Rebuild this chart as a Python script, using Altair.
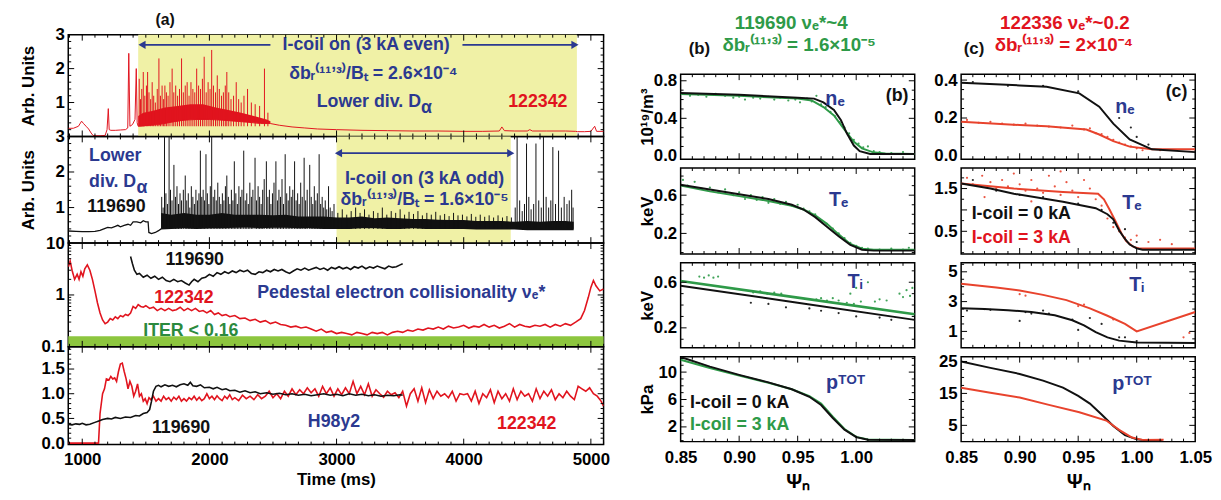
import altair as alt
import pandas as pd

FONT = "Liberation Sans Narrow, Liberation Sans, Arial, sans-serif"
BLUE = "#2b3990"
RED = "#e1141e"
ORED = "#e8432d"
GREEN = "#2e9a48"
BLACK = "#111111"
YELLOW = "#f0f1a6"
ITERG = "#8dc63f"

# ---------------- panel (a): time traces ----------------
time_labels = [1000, 2000, 3000, 4000, 5000]
yellow_even = [1440, 4890]
yellow_odd = [3000, 4370]

# 122342 lower divertor D-alpha (baseline trace)
red_da = [(891, 0.24), (930, 0.24), (970, 0.3), (995, 0.45), (1010, 0.38), (1030, 0.3), (1050, 0.22),
          (1070, 0.1), (1085, 0.03), (1100, 0.02), (1140, 0.02), (1180, 0.03), (1195, 0.2), (1205, 0.82),
          (1212, 0.2), (1225, 0.18), (1260, 0.18), (1300, 0.19), (1340, 0.2), (1358, 0.25), (1366, 2.45),
          (1375, 0.3), (1395, 0.35), (1415, 0.5), (1425, 2.0), (1432, 0.4), (1440, 0.3), (1500, 0.32),
          (1600, 0.35), (1700, 0.42), (1800, 0.48), (1900, 0.5), (2000, 0.5), (2100, 0.48), (2200, 0.45),
          (2300, 0.42), (2400, 0.38), (2480, 0.38), (2550, 0.33), (2650, 0.28), (2750, 0.25), (2850, 0.22),
          (3000, 0.2), (3200, 0.18), (3400, 0.17), (3600, 0.16), (3800, 0.16), (4000, 0.15), (4150, 0.15),
          (4280, 0.16), (4300, 0.28), (4320, 0.17), (4400, 0.16), (4500, 0.16), (4520, 0.2), (4540, 0.16),
          (4650, 0.16), (4800, 0.16), (4880, 0.15), (4895, 0.14), (4950, 0.14), (5000, 0.15), (5030, 0.3),
          (5045, 0.15), (5100, 0.15)]
red_body = [(1440, 0.3, 0.6), (1480, 0.3, 0.7), (1550, 0.33, 0.75), (1650, 0.38, 0.85), (1750, 0.45, 0.9),
            (1850, 0.49, 0.95), (1950, 0.5, 0.95), (2050, 0.49, 0.85), (2150, 0.46, 0.78), (2250, 0.43, 0.7),
            (2350, 0.4, 0.6), (2450, 0.38, 0.5), (2480, 0.38, 0.45)]
red_spikes = [(1448, 1.7), (1458, 1.1), (1468, 1.4), (1480, 1.9), (1492, 1.2), (1505, 1.5), (1514, 1.9),
              (1525, 1.3), (1538, 1.1), (1550, 1.6), (1562, 1.2), (1575, 1.0), (1590, 1.4), (1603, 2.3),
              (1615, 1.2), (1628, 1.5), (1640, 1.1), (1650, 1.5), (1662, 1.3), (1675, 1.2), (1690, 1.6),
              (1707, 2.0), (1720, 1.3), (1735, 1.5), (1750, 1.2), (1765, 1.4), (1781, 2.3), (1795, 1.3),
              (1810, 1.5), (1825, 1.6), (1840, 1.2), (1855, 1.6), (1870, 1.4), (1885, 1.3), (1900, 2.0),
              (1915, 1.5), (1930, 1.4), (1945, 1.7), (1959, 2.35), (1975, 1.3), (1990, 1.6), (2005, 1.4),
              (2018, 2.55), (2032, 1.5), (2048, 1.3), (2062, 1.8), (2078, 1.4), (2095, 1.2), (2110, 1.3),
              (2125, 1.5), (2137, 1.9), (2152, 1.3), (2170, 1.1), (2190, 1.2), (2211, 1.6), (2230, 1.1),
              (2250, 1.0), (2272, 1.2), (2300, 1.4), (2330, 1.0), (2360, 0.95), (2395, 0.9), (2433, 2.0),
              (2460, 0.7)]

# 119690 lower divertor D-alpha
black_da = [(891, 0.34), (950, 0.33), (1000, 0.32), (1050, 0.32), (1100, 0.33), (1140, 0.36), (1170, 0.4),
            (1200, 0.44), (1230, 0.43), (1260, 0.47), (1280, 0.5), (1300, 0.46), (1330, 0.5), (1360, 0.53),
            (1380, 0.5), (1400, 0.6), (1430, 0.6), (1460, 0.57), (1480, 0.63), (1500, 0.6), (1518, 0.6),
            (1524, 0.3), (1545, 0.27), (1575, 0.3), (1600, 0.35), (1620, 0.4)]
black_body = [(1620, 0.38, 0.85), (1700, 0.4, 0.8), (1800, 0.42, 0.85), (1900, 0.4, 0.8), (2000, 0.42, 0.8),
              (2100, 0.42, 0.85), (2200, 0.43, 0.8), (2300, 0.44, 0.8), (2400, 0.42, 0.8), (2500, 0.43, 0.78),
              (2600, 0.43, 0.8), (2700, 0.42, 0.75), (2800, 0.42, 0.75), (2900, 0.4, 0.75), (3000, 0.4, 0.72),
              (3100, 0.4, 0.72), (3200, 0.42, 0.75), (3300, 0.42, 0.7), (3400, 0.4, 0.72), (3500, 0.4, 0.7),
              (3600, 0.42, 0.68), (3700, 0.4, 0.68), (3800, 0.4, 0.66), (3900, 0.4, 0.65), (4000, 0.4, 0.65),
              (4100, 0.38, 0.62), (4200, 0.38, 0.62), (4300, 0.38, 0.62), (4400, 0.38, 0.6), (4500, 0.36, 0.62),
              (4600, 0.36, 0.6), (4700, 0.36, 0.62), (4800, 0.36, 0.62), (4865, 0.36, 0.6)]
black_spikes = [(1625, 1.3), (1636, 1.0), (1647, 3.2), (1658, 1.4), (1670, 1.1), (1683, 3.2), (1694, 1.5),
                (1706, 1.2), (1721, 2.2), (1733, 1.3), (1745, 1.6), (1757, 1.1), (1769, 1.4), (1781, 1.2),
                (1795, 1.5), (1810, 1.9), (1822, 1.2), (1834, 1.4), (1846, 1.0), (1858, 1.6), (1870, 1.3),
                (1882, 1.1), (1894, 1.5), (1906, 1.2), (1918, 1.4), (1929, 2.6), (1940, 1.3), (1951, 1.5),
                (1962, 1.2), (1973, 2.5), (1984, 1.4), (1996, 1.1), (2007, 1.6), (2018, 3.2), (2030, 1.3),
                (2042, 1.5), (2054, 1.2), (2066, 1.7), (2078, 1.3), (2090, 1.1), (2102, 1.4), (2114, 1.2),
                (2126, 1.6), (2137, 1.9), (2149, 1.3), (2161, 1.1), (2173, 1.5), (2185, 1.2), (2196, 2.3),
                (2208, 1.4), (2220, 1.1), (2232, 1.6), (2244, 1.3), (2256, 1.5), (2270, 2.6), (2282, 1.2),
                (2294, 1.4), (2306, 1.1), (2318, 1.7), (2330, 1.3), (2342, 1.5), (2359, 2.4), (2371, 1.2),
                (2383, 1.6), (2395, 1.3), (2407, 1.1), (2419, 1.5), (2431, 1.8), (2448, 2.3), (2460, 1.3),
                (2472, 1.5), (2484, 1.1), (2496, 1.4), (2508, 1.7), (2523, 2.3), (2535, 1.2), (2547, 1.5),
                (2559, 1.3), (2571, 1.8), (2583, 1.1), (2596, 2.5), (2608, 1.4), (2620, 1.2), (2632, 1.6),
                (2644, 1.3), (2656, 1.5), (2670, 2.3), (2682, 1.2), (2694, 1.4), (2706, 1.1), (2718, 1.7),
                (2730, 1.3), (2745, 2.4), (2757, 1.2), (2769, 1.5), (2789, 2.2), (2801, 1.3), (2813, 1.1),
                (2825, 1.6), (2837, 1.2), (2849, 1.4), (2863, 2.5), (2875, 1.1), (2887, 1.3), (2899, 1.0),
                (2911, 1.2), (2923, 0.95), (2937, 1.6), (2950, 1.0), (2965, 0.9), (2980, 1.1),
                (3010, 0.85), (3045, 0.95), (3080, 0.8), (3115, 0.9), (3150, 1.0), (3185, 0.85), (3220, 0.95),
                (3255, 0.8), (3290, 0.9), (3325, 0.85), (3360, 1.0), (3395, 0.8), (3430, 0.9), (3465, 0.85),
                (3500, 0.95), (3535, 0.8), (3570, 0.88), (3605, 0.82), (3640, 0.9), (3675, 0.78), (3710, 0.85),
                (3745, 0.8), (3780, 0.88), (3815, 0.78), (3850, 0.82), (3885, 0.76), (3920, 0.85), (3955, 0.78),
                (3990, 0.8), (4025, 0.75), (4060, 0.82), (4095, 0.74), (4130, 0.8), (4165, 0.74), (4200, 0.78),
                (4235, 0.72), (4270, 0.78), (4305, 0.72), (4340, 0.76), (4375, 0.72),
                (4405, 1.0), (4420, 3.2), (4440, 1.2), (4460, 0.9), (4478, 1.1), (4494, 2.8), (4512, 1.3),
                (4530, 0.95), (4550, 1.1), (4568, 2.8), (4590, 1.2), (4610, 1.0), (4627, 3.2), (4648, 1.3),
                (4668, 1.0), (4685, 1.2), (4701, 2.7), (4722, 1.1), (4746, 2.6), (4768, 1.0), (4790, 1.3),
                (4812, 1.1), (4830, 1.2), (4849, 1.5), (4860, 1.0)]

# pedestal electron collisionality
red_nu = [(891, 3.5), (905, 4.5), (920, 3.0), (940, 2.0), (960, 2.5), (975, 2.0), (990, 2.8), (1005, 2.3),
          (1020, 3.2), (1040, 3.8), (1060, 3.0), (1080, 2.0), (1100, 1.2), (1120, 0.7), (1140, 0.45),
          (1160, 0.33), (1180, 0.28), (1200, 0.3), (1220, 0.35), (1240, 0.33), (1260, 0.38), (1280, 0.35),
          (1300, 0.4), (1320, 0.38), (1340, 0.42), (1360, 0.4), (1380, 0.45), (1400, 0.6), (1420, 0.55),
          (1440, 0.65), (1460, 0.6), (1480, 0.58), (1500, 0.62), (1530, 0.55), (1560, 0.58), (1590, 0.5),
          (1620, 0.55), (1650, 0.5), (1680, 0.55), (1710, 0.5), (1740, 0.52), (1770, 0.58), (1800, 0.5),
          (1830, 0.55), (1860, 0.5), (1890, 0.55), (1920, 0.48), (1950, 0.5), (1980, 0.45), (2010, 0.5),
          (2040, 0.42), (2070, 0.45), (2100, 0.4), (2130, 0.42), (2160, 0.38), (2200, 0.4), (2240, 0.35),
          (2280, 0.36), (2320, 0.32), (2360, 0.34), (2400, 0.3), (2440, 0.32), (2480, 0.28), (2520, 0.3),
          (2560, 0.27), (2600, 0.26), (2640, 0.24), (2680, 0.25), (2720, 0.23), (2760, 0.24), (2800, 0.22),
          (2840, 0.2), (2880, 0.22), (2920, 0.19), (2960, 0.2), (3000, 0.18), (3040, 0.19), (3080, 0.18),
          (3120, 0.17), (3160, 0.19), (3200, 0.18), (3240, 0.17), (3280, 0.19), (3320, 0.18), (3360, 0.19),
          (3400, 0.17), (3440, 0.19), (3480, 0.2), (3520, 0.19), (3560, 0.21), (3600, 0.2), (3640, 0.22),
          (3680, 0.21), (3720, 0.23), (3760, 0.22), (3800, 0.24), (3840, 0.22), (3880, 0.25), (3920, 0.23),
          (3960, 0.24), (4000, 0.26), (4040, 0.23), (4080, 0.25), (4120, 0.24), (4160, 0.27), (4200, 0.24),
          (4240, 0.26), (4280, 0.23), (4320, 0.25), (4360, 0.28), (4400, 0.24), (4440, 0.27), (4480, 0.25),
          (4520, 0.24), (4560, 0.26), (4600, 0.25), (4640, 0.27), (4680, 0.24), (4720, 0.27), (4760, 0.25),
          (4800, 0.28), (4840, 0.26), (4880, 0.3), (4920, 0.35), (4950, 0.5), (4980, 0.9), (5000, 1.4),
          (5020, 1.9), (5040, 1.5), (5070, 1.2), (5100, 1.3)]
black_nu = [(1380, 5.5), (1395, 4.0), (1410, 3.0), (1430, 2.5), (1450, 2.6), (1480, 2.2), (1510, 2.4),
            (1540, 2.1), (1570, 2.3), (1600, 2.0), (1630, 2.2), (1660, 1.9), (1690, 1.8), (1720, 2.0),
            (1750, 1.8), (1780, 1.9), (1810, 1.7), (1840, 1.55), (1860, 1.8), (1880, 2.0), (1910, 1.8),
            (1940, 2.1), (1970, 2.2), (2000, 2.5), (2030, 2.3), (2060, 2.7), (2090, 2.5), (2120, 2.8),
            (2150, 2.6), (2180, 2.9), (2210, 2.7), (2240, 3.0), (2270, 2.8), (2300, 3.0), (2330, 2.6),
            (2360, 2.5), (2390, 2.8), (2420, 2.7), (2450, 3.0), (2480, 2.8), (2510, 3.1), (2540, 2.9),
            (2570, 3.1), (2600, 2.8), (2630, 2.6), (2660, 2.9), (2690, 3.2), (2720, 3.0), (2750, 3.3),
            (2780, 3.0), (2810, 3.2), (2840, 3.4), (2870, 3.1), (2900, 3.3), (2930, 3.0), (2960, 3.4),
            (2990, 3.2), (3020, 3.5), (3050, 3.2), (3080, 3.4), (3110, 3.1), (3140, 3.5), (3170, 3.3),
            (3200, 3.6), (3230, 3.2), (3260, 3.5), (3290, 3.3), (3320, 3.6), (3350, 3.4), (3380, 3.2),
            (3410, 3.6), (3440, 3.4), (3470, 3.5), (3500, 3.8), (3520, 4.0)]
iter_band = [0.1, 0.16]

# H98y2 confinement factor
red_h98 = [(891, 0.0), (1000, 0.0), (1100, 0.0), (1128, 0.0), (1140, 0.6), (1160, 1.0), (1175, 1.1),
           (1190, 1.3), (1210, 1.28), (1225, 1.35), (1240, 1.3), (1255, 1.32), (1270, 1.25), (1285, 1.45),
           (1300, 1.6), (1315, 1.62), (1330, 1.45), (1345, 1.3), (1360, 1.1), (1375, 1.25), (1390, 1.15),
           (1405, 0.95), (1420, 1.05), (1435, 1.2), (1450, 0.95), (1465, 1.0), (1480, 0.85), (1495, 0.9),
           (1510, 0.8), (1525, 0.92), (1540, 0.88), (1560, 0.95), (1580, 0.85), (1600, 0.9), (1620, 0.85),
           (1640, 0.95), (1660, 0.88), (1680, 0.92), (1700, 0.85), (1720, 0.93), (1740, 0.88), (1760, 0.95),
           (1780, 0.85), (1800, 0.9), (1820, 0.85), (1840, 0.92), (1860, 0.88), (1880, 0.95), (1900, 0.87),
           (1920, 0.93), (1940, 0.86), (1960, 0.9), (1980, 1.0), (2000, 0.9), (2020, 0.95), (2040, 0.88),
           (2060, 0.96), (2080, 0.9), (2100, 0.86), (2120, 0.95), (2140, 0.9), (2160, 0.98), (2180, 0.88),
           (2200, 0.92), (2230, 0.86), (2260, 0.97), (2290, 0.9), (2320, 0.95), (2350, 0.88), (2380, 0.98),
           (2410, 0.9), (2440, 0.95), (2470, 1.05), (2500, 0.92), (2530, 1.0), (2560, 0.9), (2590, 1.05),
           (2620, 0.95), (2650, 1.1), (2680, 0.98), (2710, 1.08), (2740, 1.0), (2770, 1.12), (2800, 1.02),
           (2830, 1.1), (2860, 0.95), (2890, 1.15), (2920, 1.0), (2950, 1.12), (2980, 0.95), (3010, 1.1),
           (3040, 0.98), (3070, 1.12), (3100, 1.0), (3130, 1.25), (3160, 1.0), (3190, 1.15), (3220, 0.98),
           (3250, 1.2), (3280, 0.95), (3310, 1.08), (3340, 1.0), (3370, 0.93), (3400, 1.05), (3430, 0.98),
           (3460, 1.02), (3490, 0.92), (3520, 1.05), (3550, 0.75), (3580, 1.0), (3610, 1.1), (3640, 0.85),
           (3670, 1.12), (3700, 0.82), (3730, 1.08), (3760, 0.9), (3790, 1.05), (3820, 0.95), (3850, 1.0),
           (3880, 0.92), (3910, 1.05), (3940, 0.85), (3970, 1.0), (4000, 0.98), (4030, 1.0), (4060, 0.85),
           (4090, 1.05), (4120, 0.8), (4150, 1.0), (4180, 0.92), (4210, 1.08), (4240, 0.82), (4270, 1.05),
           (4300, 0.9), (4330, 1.0), (4360, 0.85), (4390, 1.1), (4420, 0.88), (4450, 1.05), (4480, 0.95),
           (4510, 1.0), (4540, 0.85), (4570, 1.1), (4600, 0.9), (4630, 1.05), (4660, 0.95), (4690, 1.08),
           (4720, 0.88), (4750, 1.0), (4780, 0.92), (4810, 1.05), (4840, 0.95), (4870, 0.88), (4900, 1.15),
           (4930, 1.1), (4960, 1.05), (4990, 1.12), (5020, 1.0), (5050, 0.95), (5080, 0.85), (5100, 0.75)]
black_h98 = [(891, 0.38), (920, 0.37), (950, 0.39), (980, 0.38), (1000, 0.4), (1030, 0.37), (1060, 0.38),
             (1100, 0.42), (1130, 0.45), (1160, 0.48), (1200, 0.5), (1230, 0.49), (1260, 0.52), (1300, 0.5),
             (1340, 0.53), (1380, 0.52), (1420, 0.56), (1450, 0.55), (1480, 0.6), (1510, 0.62), (1530, 0.68),
             (1545, 0.85), (1560, 1.05), (1580, 1.15), (1600, 1.17), (1620, 1.14), (1650, 1.18), (1680, 1.15),
             (1710, 1.17), (1740, 1.14), (1770, 1.18), (1800, 1.2), (1830, 1.17), (1850, 1.23), (1870, 1.16),
             (1900, 1.15), (1930, 1.18), (1960, 1.12), (2000, 1.13), (2030, 1.1), (2060, 1.13), (2100, 1.08),
             (2130, 1.1), (2160, 1.06), (2200, 1.07), (2240, 1.03), (2280, 1.06), (2320, 1.02), (2360, 1.04),
             (2400, 1.0), (2450, 1.02), (2500, 0.99), (2550, 1.01), (2600, 0.98), (2650, 1.0), (2700, 0.97),
             (2750, 0.99), (2800, 0.96), (2850, 0.98), (2900, 1.0), (2950, 0.97), (3000, 0.99), (3050, 0.96),
             (3100, 1.0), (3150, 0.97), (3200, 0.99), (3250, 0.96), (3300, 0.98), (3350, 0.95), (3400, 0.97),
             (3450, 0.96), (3500, 0.98), (3520, 0.97)]

# ---------------- panels (b), (c): profiles vs psi_n ----------------
psi_labels_b = [0.85, 0.90, 0.95, 1.00]
psi_labels_c = [0.85, 0.90, 0.95, 1.00, 1.05]

b_ne_0 = [(0.85, 0.67), (0.9, 0.65), (0.95, 0.62), (0.964, 0.61), (0.972, 0.57), (0.981, 0.49), (0.987, 0.38),
          (0.992, 0.24), (0.998, 0.11), (1.003, 0.05), (1.012, 0.02), (1.05, 0.02)]
b_ne_3 = [(0.85, 0.66), (0.9, 0.64), (0.95, 0.61), (0.962, 0.59), (0.972, 0.52), (0.981, 0.43), (0.99, 0.28),
          (0.998, 0.15), (1.005, 0.08), (1.014, 0.04), (1.025, 0.025), (1.05, 0.02)]
b_ne_pts = [(0.852, 0.66), (0.858, 0.64), (0.865, 0.65), (0.872, 0.63), (0.88, 0.66), (0.888, 0.64), (0.895, 0.62),
            (0.9, 0.63), (0.905, 0.6), (0.912, 0.62), (0.918, 0.61), (0.925, 0.63), (0.93, 0.6), (0.935, 0.62),
            (0.942, 0.59), (0.948, 0.6), (0.952, 0.57), (0.958, 0.61), (0.962, 0.58), (0.966, 0.64), (0.97, 0.55),
            (0.974, 0.52), (0.978, 0.47), (0.982, 0.42), (0.986, 0.36), (0.99, 0.3), (0.994, 0.24), (0.998, 0.17),
            (1.002, 0.13), (1.006, 0.09), (1.01, 0.1), (1.015, 0.05), (1.02, 0.04), (1.03, 0.03), (1.04, 0.04),
            (1.045, 0.02)]
b_te_0 = [(0.85, 0.71), (0.875, 0.66), (0.9, 0.61), (0.925, 0.56), (0.945, 0.5), (0.955, 0.45), (0.965, 0.37),
          (0.975, 0.27), (0.985, 0.17), (0.995, 0.08), (1.005, 0.03), (1.015, 0.02), (1.05, 0.02)]
b_te_3 = [(0.85, 0.7), (0.875, 0.64), (0.9, 0.59), (0.925, 0.54), (0.945, 0.49), (0.955, 0.45), (0.965, 0.39),
          (0.975, 0.3), (0.985, 0.19), (0.995, 0.09), (1.005, 0.04), (1.015, 0.03), (1.05, 0.03)]
b_te_pts = [(0.852, 0.76), (0.856, 0.7), (0.862, 0.74), (0.868, 0.67), (0.875, 0.68), (0.882, 0.63), (0.888, 0.66),
            (0.895, 0.6), (0.9, 0.63), (0.905, 0.56), (0.91, 0.6), (0.915, 0.55), (0.92, 0.58), (0.925, 0.52),
            (0.93, 0.56), (0.935, 0.51), (0.94, 0.53), (0.945, 0.49), (0.95, 0.5), (0.955, 0.46), (0.96, 0.43),
            (0.965, 0.4), (0.97, 0.34), (0.975, 0.3), (0.98, 0.25), (0.985, 0.2), (0.99, 0.15), (0.995, 0.1),
            (1.0, 0.07), (1.005, 0.05), (1.01, 0.04), (1.02, 0.03), (1.03, 0.04), (1.04, 0.03), (1.045, 0.05)]
b_ti_0 = [(0.85, 0.57), (0.95, 0.42), (1.05, 0.27)]
b_ti_3 = [(0.85, 0.61), (0.95, 0.465), (1.05, 0.32)]
b_ti_pts3 = [(0.866, 0.65), (0.87, 0.64), (0.874, 0.66), (0.878, 0.64), (0.882, 0.65), (0.912, 0.51), (0.918, 0.52),
             (0.924, 0.5), (0.93, 0.51), (0.936, 0.5), (0.966, 0.45), (0.97, 0.46), (0.975, 0.44), (0.98, 0.46),
             (0.985, 0.44), (0.992, 0.42), (0.998, 0.41), (1.004, 0.43), (1.016, 0.43), (1.02, 0.45), (1.026, 0.44),
             (1.037, 0.5), (1.04, 0.47), (1.043, 0.53), (1.046, 0.48), (1.048, 0.55), (1.0, 0.55), (1.01, 0.6),
             (0.995, 0.5)]
b_ti_pts0 = [(0.91, 0.42), (0.925, 0.41), (0.94, 0.38), (0.96, 0.37), (0.97, 0.35), (0.985, 0.33), (1.0, 0.3),
             (1.02, 0.29), (1.03, 0.27)]
b_p_0 = [(0.85, 12.2), (0.875, 10.8), (0.9, 9.6), (0.925, 8.5), (0.945, 7.5), (0.96, 6.4), (0.97, 5.2),
         (0.98, 3.3), (0.99, 1.6), (1.0, 0.5), (1.01, 0.12), (1.05, 0.1)]
b_p_3 = [(0.85, 11.8), (0.875, 10.6), (0.9, 9.5), (0.925, 8.45), (0.945, 7.5), (0.96, 6.5), (0.97, 5.4),
         (0.98, 3.5), (0.99, 1.7), (1.0, 0.55), (1.01, 0.15), (1.05, 0.1)]

c_ne_0 = [(0.85, 0.386), (0.9, 0.372), (0.923, 0.365), (0.951, 0.33), (0.968, 0.26), (0.98, 0.17), (0.994, 0.087),
          (1.013, 0.035), (1.05, 0.02)]
c_ne_3 = [(0.85, 0.18), (0.9, 0.163), (0.923, 0.157), (0.957, 0.139), (0.968, 0.113), (0.98, 0.078),
          (0.994, 0.049), (1.013, 0.035), (1.05, 0.035)]
c_ne_pts3 = [(0.855, 0.19), (0.865, 0.175), (0.875, 0.18), (0.885, 0.17), (0.895, 0.165), (0.905, 0.17),
             (0.915, 0.16), (0.925, 0.155), (0.935, 0.15), (0.945, 0.16), (0.955, 0.14), (0.96, 0.145),
             (0.965, 0.12), (0.97, 0.115), (0.975, 0.1), (0.98, 0.085), (0.985, 0.07), (0.99, 0.06),
             (0.995, 0.05), (1.0, 0.04), (1.005, 0.03), (1.01, 0.04), (1.02, 0.03)]
c_ne_pts0 = [(0.86, 0.39), (0.89, 0.37), (0.92, 0.37), (0.95, 0.34), (0.985, 0.2), (0.995, 0.15), (1.0, 0.1),
             (1.01, 0.06)]
c_te_0 = [(0.85, 1.62), (0.875, 1.5), (0.895, 1.38), (0.937, 1.19), (0.965, 1.04), (0.975, 0.9), (0.98, 0.78),
          (0.985, 0.52), (0.99, 0.32), (0.994, 0.19), (1.0, 0.1), (1.005, 0.07), (1.05, 0.07)]
c_te_3 = [(0.85, 1.62), (0.895, 1.5), (0.937, 1.42), (0.967, 1.38), (0.972, 1.25), (0.977, 1.0), (0.982, 0.73),
          (0.987, 0.45), (0.991, 0.27), (0.997, 0.14), (1.002, 0.1), (1.05, 0.1)]
c_te_pts3 = [(0.855, 1.75), (0.86, 1.6), (0.868, 1.8), (0.875, 1.65), (0.88, 1.5), (0.885, 1.7), (0.89, 1.55),
             (0.895, 1.85), (0.9, 1.6), (0.905, 1.45), (0.91, 1.7), (0.915, 1.5), (0.92, 1.4), (0.925, 1.8),
             (0.93, 1.55), (0.935, 1.35), (0.94, 1.65), (0.945, 1.45), (0.95, 1.3), (0.955, 1.7), (0.96, 1.5),
             (0.965, 1.25), (0.97, 1.1), (0.975, 0.8), (0.98, 0.6), (0.985, 0.5), (0.99, 0.35), (0.995, 0.3),
             (1.0, 0.4), (1.01, 0.25), (1.02, 0.3), (1.03, 0.2), (0.935, 1.9), (0.91, 1.2), (0.87, 1.3)]
c_te_pts0 = [(0.86, 1.7), (0.88, 1.45), (0.9, 1.35), (0.92, 1.3), (0.95, 1.15), (0.97, 1.0), (0.98, 0.7),
             (0.99, 0.55), (1.0, 0.25)]
c_ti_0 = [(0.85, 2.55), (0.87, 2.5), (0.89, 2.42), (0.91, 2.3), (0.93, 2.08), (0.945, 1.75), (0.955, 1.4),
          (0.965, 0.95), (0.975, 0.6), (0.985, 0.38), (1.0, 0.25), (1.05, 0.22)]
c_ti_3 = [(0.85, 4.2), (0.88, 3.95), (0.9, 3.75), (0.92, 3.45), (0.94, 3.1), (0.96, 2.55), (0.975, 2.05),
          (0.99, 1.5), (1.0, 1.0), (1.05, 2.3)]
c_ti_pts3 = [(0.9, 3.5), (0.905, 3.4), (0.95, 2.7), (0.955, 2.8), (0.98, 1.8), (1.04, 0.6), (1.045, 0.9)]
c_ti_pts0 = [(0.855, 2.4), (0.87, 2.5), (0.875, 2.45), (0.9, 1.7), (0.905, 2.3), (0.91, 2.2), (0.92, 2.4),
             (0.925, 2.2), (0.945, 1.8), (0.95, 1.1), (0.96, 1.9), (0.97, 1.5), (0.985, 0.6), (0.99, 0.6), (1.0, 0.35)]
c_p_0 = [(0.85, 25.0), (0.875, 23.0), (0.9, 21.1), (0.92, 19.0), (0.937, 16.8), (0.95, 14.2), (0.96, 11.8),
         (0.97, 8.4), (0.98, 4.8), (0.99, 1.9), (1.0, 0.6), (1.01, 0.25), (1.022, 0.2)]
c_p_3 = [(0.85, 16.8), (0.875, 15.2), (0.9, 13.7), (0.925, 11.4), (0.951, 9.1), (0.974, 6.5), (0.985, 3.6),
         (0.996, 1.2), (1.005, 0.45), (1.023, 0.5)]


# ---------------- helpers ----------------
def frange(a, b, step, skip=()):
    out = []
    n = int(round((b - a) / step))
    for i in range(n + 1):
        v = round(a + i * step, 4)
        if all(abs(v - s) > 1e-9 for s in skip):
            out.append(v)
    return out


class Panel:
    def __init__(self, w, h, xdom, ydom, log=False, yvals=None, yfmt="", ytitle=None, ytx=-30,
                 xvals=None, xfmt="", xtitle=None, xlp=7, xtp=4, xts=17):
        self.w, self.h = w, h
        self.xs = alt.Scale(domain=xdom, nice=False, zero=False)
        if log:
            self.ys = alt.Scale(type="log", domain=ydom, nice=False)
        else:
            self.ys = alt.Scale(domain=ydom, nice=False, zero=False)
        ya = dict(values=yvals, format=yfmt, labelPadding=4, labelOverlap=False)
        if ytitle:
            ya.update(title=ytitle, titleX=ytx, titleY=h / 2, titleAngle=270,
                      titleBaseline="bottom", titleAlign="center")
        else:
            ya["title"] = None
        self.yax = alt.Axis(**ya)
        if xvals:
            self.xax = alt.Axis(values=xvals, format=xfmt, title=xtitle, labelPadding=xlp, titlePadding=xtp,
                                labelFlush=False, labelOverlap=False, titleFontSize=xts)
        else:
            self.xax = None
        self.layers = []

    def X(self, f="x"):
        return alt.X(f"{f}:Q", scale=self.xs, axis=self.xax)

    def Y(self, f="y"):
        return alt.Y(f"{f}:Q", scale=self.ys, axis=self.yax)

    def line(self, rows, color, sw=1.3):
        df = pd.DataFrame(rows, columns=["x", "y"])
        self.layers.append(alt.Chart(df).mark_line(color=color, strokeWidth=sw, clip=True)
                           .encode(x=self.X(), y=self.Y()))

    def area(self, rows, color):
        df = pd.DataFrame(rows, columns=["x", "lo", "hi"])
        self.layers.append(alt.Chart(df).mark_area(color=color, clip=True)
                           .encode(x=self.X(), y=self.Y("lo"), y2=alt.Y2("hi")))

    def spikes(self, rows, lo, color, sw=1.0):
        df = pd.DataFrame(rows, columns=["x", "hi"])
        df["lo"] = lo
        self.layers.append(alt.Chart(df).mark_rule(color=color, strokeWidth=sw, clip=True)
                           .encode(x=self.X(), y=self.Y("lo"), y2=alt.Y2("hi")))

    def pts(self, rows, color, size=5):
        df = pd.DataFrame(rows, columns=["x", "y"])
        self.layers.append(alt.Chart(df).mark_circle(color=color, size=size, opacity=0.9, clip=True)
                           .encode(x=self.X(), y=self.Y()))

    def vband(self, span, color):
        df = pd.DataFrame({"x": [span[0]], "x2": [span[1]]})
        self.layers.append(alt.Chart(df).mark_rect(color=color)
                           .encode(x=self.X(), x2=alt.X2("x2"), y=alt.value(0), y2=alt.value(self.h)))

    def hband(self, span, color):
        df = pd.DataFrame({"y": [span[0]], "y2": [span[1]]})
        self.layers.append(alt.Chart(df).mark_rect(color=color)
                           .encode(y=self.Y(), y2=alt.Y2("y2"), x=alt.value(0), x2=alt.value(self.w)))

    def arrow(self, segs, y, color):
        rows = []
        for i, (a, b) in enumerate(segs):
            rows += [(a, y, i), (b, y, i)]
        df = pd.DataFrame(rows, columns=["x", "y", "seg"])
        self.layers.append(alt.Chart(df).mark_line(color=color, strokeWidth=1.6)
                           .encode(x=self.X(), y=self.Y(), detail="seg:N"))
        left = pd.DataFrame({"x": [segs[0][0]], "y": [y]})
        right = pd.DataFrame({"x": [segs[-1][1]], "y": [y]})
        self.layers.append(alt.Chart(left).mark_point(shape="triangle-left", filled=True, size=70, color=color,
                                                      opacity=1).encode(x=self.X(), y=self.Y()))
        self.layers.append(alt.Chart(right).mark_point(shape="triangle-right", filled=True, size=70, color=color,
                                                       opacity=1).encode(x=self.X(), y=self.Y()))

    def text(self, x, y, s, color, size=18, align="center", dy=0):
        df = pd.DataFrame({"x": [x], "y": [y], "s": [s]})
        self.layers.append(alt.Chart(df).mark_text(color=color, fontSize=size, align=align, baseline="middle",
                                                   dy=dy, font=FONT, fontWeight="bold")
                           .encode(x=self.X(), y=self.Y(), text="s:N"))

    def ticks(self, xmaj, xmin, ymaj, ymin):
        for vals, L in ((xmaj, 6), (xmin, 3)):
            if not vals:
                continue
            base = alt.Chart(pd.DataFrame({"x": vals})).mark_rule(color="black", strokeWidth=1)
            self.layers.append(base.encode(x=self.X(), y=alt.value(self.h), y2=alt.value(self.h - L)))
            self.layers.append(base.encode(x=self.X(), y=alt.value(0), y2=alt.value(L)))
        for vals, L in ((ymaj, 6), (ymin, 3)):
            if not vals:
                continue
            base = alt.Chart(pd.DataFrame({"y": vals})).mark_rule(color="black", strokeWidth=1)
            self.layers.append(base.encode(y=self.Y(), x=alt.value(0), x2=alt.value(L)))
            self.layers.append(base.encode(y=self.Y(), x=alt.value(self.w), x2=alt.value(self.w - L)))

    def chart(self):
        return alt.layer(*self.layers).properties(width=self.w, height=self.h)


def spacer(w, h, items):
    layers = []
    for px, py, s, c, fs, al in items:
        layers.append(alt.Chart(pd.DataFrame({"s": [s]}))
                      .mark_text(color=c, fontSize=fs, align=al, baseline="middle", font=FONT, fontWeight="bold")
                      .encode(x=alt.value(px), y=alt.value(py), text="s:N"))
    return alt.layer(*layers).properties(width=w, height=h, view=alt.ViewBackground(stroke="transparent"))


EVEN = "δbᵣ⁽¹¹ʼ³⁾/Bₜ = 2.6×10⁻⁴"
ODD = "δbᵣ⁽¹¹ʼ³⁾/Bₜ = 1.6×10⁻⁵"

WL = 542
TD = [890, 5100]
tmaj = time_labels
tmin = [t for t in range(900, 5101, 100) if t % 1000]

# ---- (a) panel 1 ----
a1 = Panel(WL, 103, TD, [0, 3], yvals=[1, 2, 3], yfmt="d", ytitle="Arb. Units", ytx=-31)
a1.vband(yellow_even, YELLOW)
a1.area(red_body, RED)
a1.spikes(red_spikes, 0.3, RED)
a1.line(red_da, RED, 1.0)
a1.arrow([(1470, 2480), (3990, 4875)], 2.7, BLUE)
a1.text(3233, 2.7, "I-coil on (3 kA even)", BLUE)
a1.text(3290, 1.85, EVEN, BLUE)
a1.text(3664, 1.0, "Lower div. D", BLUE, align="right")
a1.text(3664, 1.0, "α", BLUE, align="left", dy=6)
a1.text(4583, 1.0, "122342", RED)
a1.ticks(tmaj, tmin, [1, 2], frange(0.2, 2.8, 0.2, skip=(1, 2)))

# ---- (a) panel 2 ----
a2 = Panel(WL, 108, TD, [0, 3], yvals=[1, 2, 3], yfmt="d", ytitle="Arb. Units", ytx=-31)
a2.vband(yellow_odd, YELLOW)
a2.area(black_body, BLACK)
a2.spikes(black_spikes, 0.4, BLACK)
a2.line(black_da, BLACK, 1.3)
a2.arrow([(3015, 4370)], 2.53, BLUE)
a2.text(1054, 2.44, "Lower", BLUE, align="left")
a2.text(1054, 1.72, "div. D", BLUE, align="left")
a2.text(1427, 1.72, "α", BLUE, align="left", dy=6)
a2.text(1040, 1.0, "119690", BLACK, align="left")
a2.text(3692, 1.8, "I-coil on (3 kA odd)", BLUE)
a2.text(3692, 1.2, ODD, BLUE)
a2.ticks(tmaj, tmin, [1, 2], frange(0.2, 2.8, 0.2, skip=(1, 2)))

# ---- (a) panel 3 ----
a3 = Panel(WL, 105, TD, [0.1, 10], log=True, yvals=[0.1, 1, 10], yfmt="~g")
a3.hband(iter_band, ITERG)
a3.line(red_nu, RED, 1.6)
a3.line(black_nu, BLACK, 1.6)
a3.text(1885, 4.7, "119690", BLACK)
a3.text(1800, 0.86, "122342", RED)
a3.text(3509, 1.07, "Pedestal electron collisionality νₑ*", BLUE)
a3.text(1854, 0.2, "ITER < 0.16", "#2b8a3e")
a3.ticks(tmaj, tmin, [1], [0.2, 0.3, 0.4, 0.5, 0.6, 0.7, 0.8, 0.9, 2, 3, 4, 5, 6, 7, 8, 9])

# ---- (a) panel 4 ----
a4 = Panel(WL, 99, TD, [-0.03, 1.95], yvals=[0, 0.5, 1.0, 1.5], yfmt=".1f",
           xvals=time_labels, xfmt="d", xtitle="Time (ms)", xlp=7, xtp=4)
a4.line(red_h98, RED, 1.6)
a4.line(black_h98, BLACK, 1.6)
a4.text(1777, 0.31, "119690", BLACK)
a4.text(2980, 0.43, "H98y2", BLUE)
a4.text(4495, 0.39, "122342", RED)
a4.ticks(tmaj, tmin, [0.5, 1.0, 1.5], frange(0.1, 1.9, 0.1, skip=(0.5, 1.0, 1.5)))

# ---- (b) column ----
WB, WC = 237, 237
PD = [0.85, 1.05]
pmaj = [0.9, 0.95, 1.0]
pmin = frange(0.86, 1.04, 0.01, skip=(0.9, 0.95, 1.0))

b1 = Panel(WB, 86, PD, [-0.035, 0.87], yvals=[0.0, 0.4, 0.8], yfmt=".1f", ytitle="10¹⁹/m³", ytx=-24)
b1.pts(b_ne_pts, GREEN)
b1.line(b_ne_3, GREEN, 2.0)
b1.line(b_ne_0, BLACK, 2.0)
b1.text(0.982, 0.6, "nₑ", BLUE, 20)
b1.text(1.035, 0.64, "(b)", BLACK, 18)
b1.ticks(pmaj, pmin, [0.4, 0.8], frange(0.1, 0.7, 0.1, skip=(0.4,)))

b2 = Panel(WB, 87, PD, [-0.015, 0.884], yvals=[0.2, 0.6], yfmt=".1f", ytitle="keV", ytx=-24)
b2.pts(b_te_pts, GREEN)
b2.line(b_te_3, GREEN, 2.0)
b2.line(b_te_0, BLACK, 2.0)
b2.text(0.985, 0.55, "Tₑ", BLUE, 20)
b2.ticks(pmaj, pmin, [0.2, 0.6], frange(0.0, 0.8, 0.1, skip=(0.2, 0.6)))

b3 = Panel(WB, 86, PD, [0.025, 0.77], yvals=[0.2, 0.6], yfmt=".1f", ytitle="keV", ytx=-24)
b3.pts(b_ti_pts3, GREEN)
b3.pts(b_ti_pts0, BLACK)
b3.line(b_ti_3, GREEN, 2.6)
b3.line(b_ti_0, BLACK, 2.0)
b3.text(0.999, 0.6, "Tᵢ", BLUE, 20)
b3.ticks(pmaj, pmin, [0.2, 0.6], frange(0.1, 0.7, 0.1, skip=(0.2, 0.6)))

b4 = Panel(WB, 86, PD, [-0.15, 12.25], yvals=[2, 6, 10], yfmt="d", ytitle="kPa", ytx=-24,
           xvals=psi_labels_b, xfmt=".2f", xtitle="Ψₙ", xlp=8, xtp=6, xts=20)
b4.line(b_p_3, GREEN, 2.0)
b4.line(b_p_0, BLACK, 2.0)
b4.text(0.991, 8.4, "pᵀᴼᵀ", BLUE, 20)
b4.text(0.858, 5.5, "I-coil = 0 kA", BLACK, 18, align="left")
b4.text(0.858, 2.3, "I-coil = 3 kA", GREEN, 18, align="left")
b4.ticks(pmaj, pmin, [2, 6, 10], frange(0, 12, 1, skip=(2, 6, 10)))

# ---- (c) column ----
c1 = Panel(WC, 86, PD, [-0.017, 0.431], yvals=[0.0, 0.2, 0.4], yfmt=".1f")
c1.pts(c_ne_pts3, ORED)
c1.pts(c_ne_pts0, BLACK)
c1.line(c_ne_3, ORED, 2.0)
c1.line(c_ne_0, BLACK, 2.0)
c1.text(0.99, 0.26, "nₑ", BLUE, 20)
c1.text(1.034, 0.338, "(c)", BLACK, 18)
c1.ticks(pmaj, pmin, [0.2, 0.4], frange(0.05, 0.4, 0.05, skip=(0.2, 0.4)))

c2 = Panel(WC, 87, PD, [-0.03, 1.98], yvals=[0.5, 1.5], yfmt=".1f")
c2.pts(c_te_pts3, ORED)
c2.pts(c_te_pts0, BLACK)
c2.line(c_te_3, ORED, 2.0)
c2.line(c_te_0, BLACK, 2.0)
c2.text(0.996, 1.17, "Tₑ", BLUE, 20)
c2.text(0.859, 0.9, "I-coil = 0 kA", BLACK, 18, align="left")
c2.text(0.859, 0.34, "I-coil = 3 kA", RED, 18, align="left")
c2.ticks(pmaj, pmin, [0.5, 1.0, 1.5], frange(0.0, 1.75, 0.25, skip=(0.5, 1.0, 1.5)))

c3 = Panel(WC, 86, PD, [-0.1, 5.6], yvals=[1, 3, 5], yfmt="d")
c3.pts(c_ti_pts3, ORED)
c3.pts(c_ti_pts0, BLACK)
c3.line(c_ti_3, ORED, 2.0)
c3.line(c_ti_0, BLACK, 2.0)
c3.text(1.0, 4.14, "Tᵢ", BLUE, 20)
c3.ticks(pmaj, pmin, [1, 3, 5], frange(0.5, 5.5, 0.5, skip=(1, 3, 5)))

c4 = Panel(WC, 86, PD, [-0.1, 26.5], yvals=[5, 15, 25], yfmt="d",
           xvals=psi_labels_c, xfmt=".2f", xtitle="Ψₙ", xlp=8, xtp=6, xts=20)
c4.line(c_p_0, BLACK, 2.0)
c4.line(c_p_3, ORED, 2.0)
c4.text(0.996, 17.8, "pᵀᴼᵀ", BLUE, 20)
c4.ticks(pmaj, pmin, [5, 15, 25], frange(2.5, 25, 2.5, skip=(5, 15, 25)))

# ---- headers ----
sa = spacer(WL, 22, [(98, 7, "(a)", BLACK, 16, "center")])
sb = spacer(WB, 53, [(112, 10, "119690 νₑ*~4", GREEN, 19, "center"),
                     (120, 32, "δbᵣ⁽¹¹ʼ³⁾ = 1.6×10⁻⁵", GREEN, 19, "center"),
                     (19, 37, "(b)", BLACK, 17, "center")])
sc = spacer(WC, 53, [(105, 10, "122336 νₑ*~0.2", RED, 19, "center"),
                     (104, 32, "δbᵣ⁽¹¹ʼ³⁾ = 2×10⁻⁴", RED, 19, "center"),
                     (13, 37, "(c)", BLACK, 17, "center")])

col_a = alt.vconcat(sa, a1.chart(), a2.chart(), a3.chart(), a4.chart(), spacing=0, bounds="flush")
col_b = alt.vconcat(sb, b1.chart(), b2.chart(), b3.chart(), b4.chart(), spacing=9, bounds="flush")
col_c = alt.vconcat(sc, c1.chart(), c2.chart(), c3.chart(), c4.chart(), spacing=9, bounds="flush")

chart = alt.hconcat(col_a, alt.hconcat(col_b, col_c, spacing=16), spacing=28)
chart = chart.properties(padding={"left": 11, "top": 0, "right": 0, "bottom": 0}).configure(
    font=FONT
).configure_axis(
    labelFont=FONT, titleFont=FONT, labelFontSize=17, titleFontSize=17, labelFontWeight="bold",
    titleFontWeight="bold", labelColor="black", titleColor="black", grid=False, ticks=False, domain=False
).configure_view(stroke="black", strokeWidth=1.5).configure_text(font=FONT, fontWeight="bold")

chart.save("out.html", embed_options={"renderer": "svg", "actions": False})
